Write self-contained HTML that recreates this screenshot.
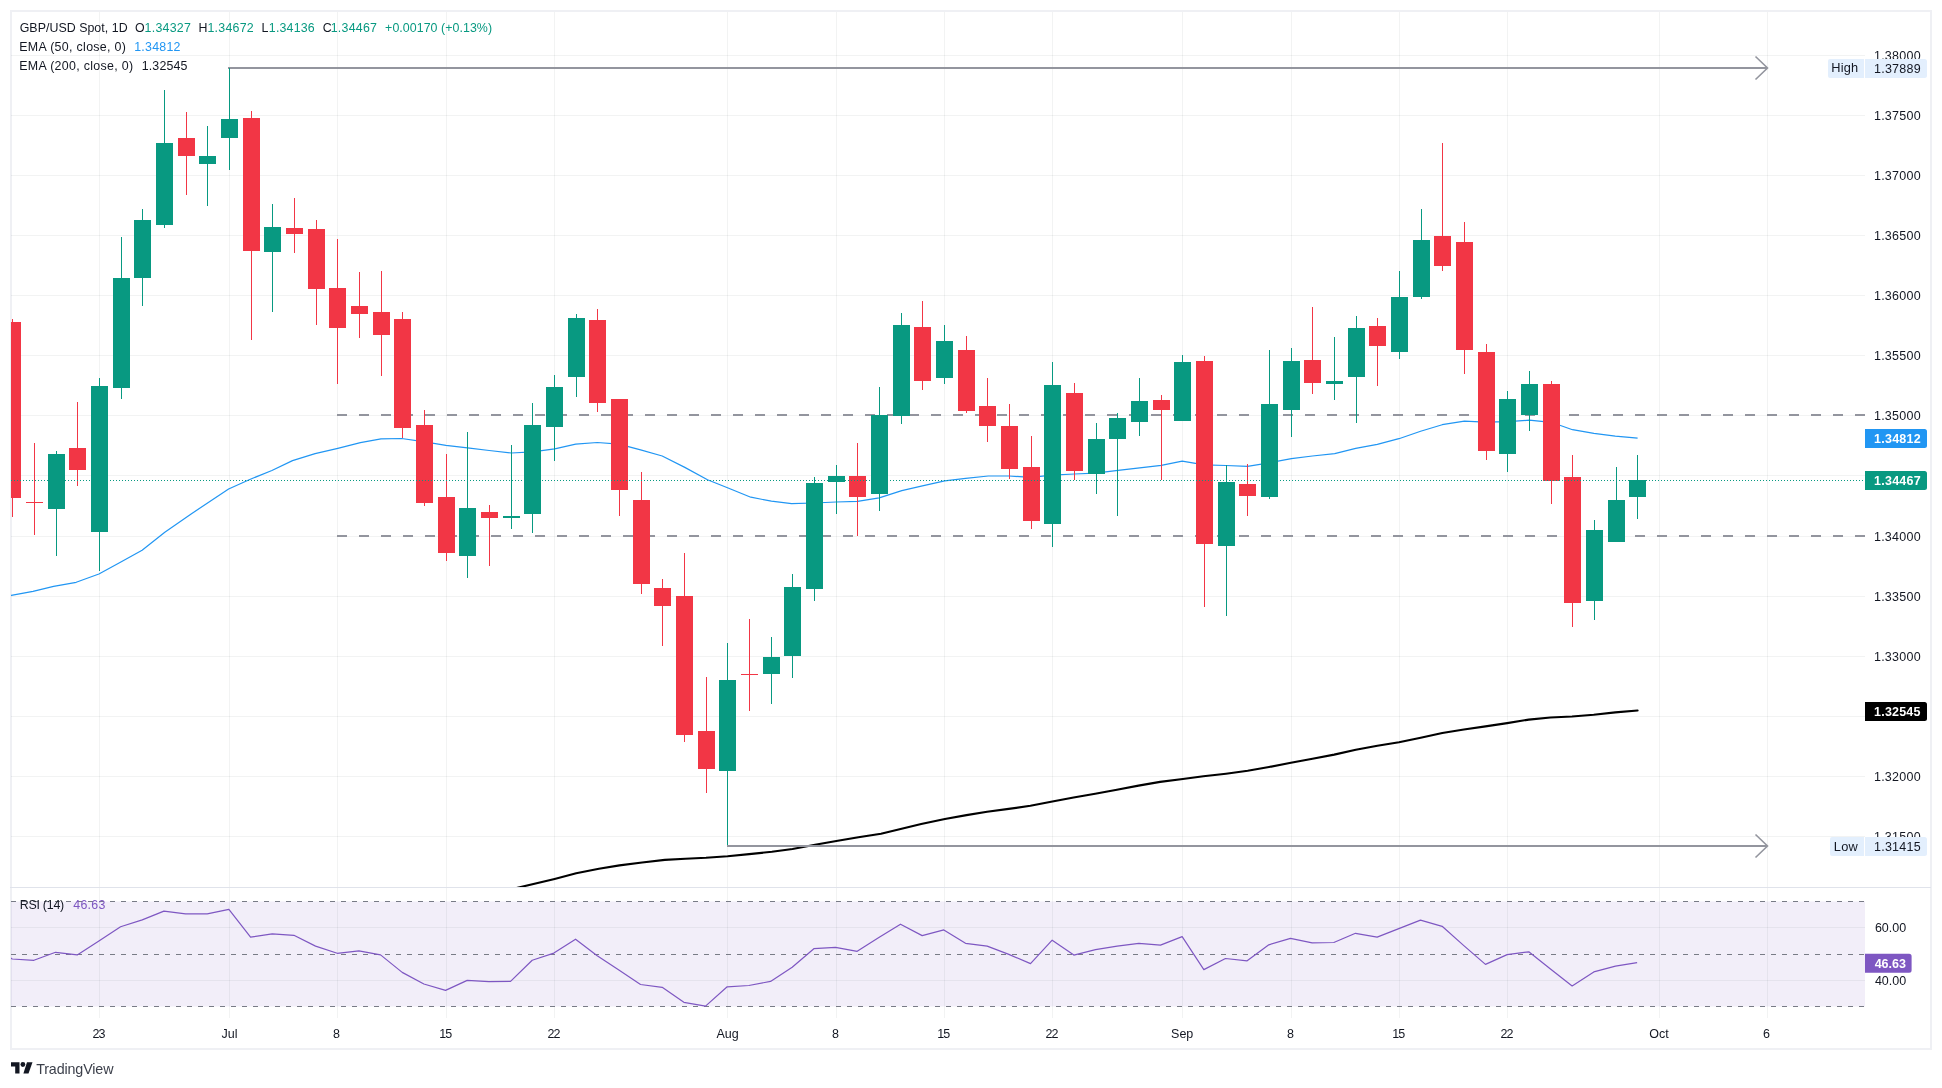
<!DOCTYPE html>
<html><head><meta charset="utf-8"><title>GBP/USD</title>
<style>
html,body{margin:0;padding:0;background:#fff;}
body{width:1942px;height:1088px;position:relative;overflow:hidden;font-family:"Liberation Sans", sans-serif;}
svg{position:absolute;left:0;top:0;will-change:transform;}
svg text{font-family:"Liberation Sans", sans-serif;}
</style></head>
<body>
<svg width="1942" height="1088" viewBox="0 0 1942 1088">
<rect x="0" y="0" width="1942" height="1088" fill="#fff"/>
<g fill="#eff0f4" shape-rendering="crispEdges">
<rect x="10" y="10" width="1922" height="2"/><rect x="10" y="1048" width="1922" height="2"/>
<rect x="10" y="10" width="2" height="1040"/><rect x="1930" y="10" width="2" height="1040"/>
</g>
<rect x="11" y="901.5" width="1854" height="105.0" fill="rgba(126,87,194,0.1)"/>
<g shape-rendering="crispEdges" fill="rgba(42,46,57,0.06)">
<rect x="99" y="12" width="1" height="1006"/>
<rect x="229" y="12" width="1" height="1006"/>
<rect x="337" y="12" width="1" height="1006"/>
<rect x="446" y="12" width="1" height="1006"/>
<rect x="554" y="12" width="1" height="1006"/>
<rect x="727" y="12" width="1" height="1006"/>
<rect x="836" y="12" width="1" height="1006"/>
<rect x="944" y="12" width="1" height="1006"/>
<rect x="1052" y="12" width="1" height="1006"/>
<rect x="1182" y="12" width="1" height="1006"/>
<rect x="1291" y="12" width="1" height="1006"/>
<rect x="1399" y="12" width="1" height="1006"/>
<rect x="1507" y="12" width="1" height="1006"/>
<rect x="1659" y="12" width="1" height="1006"/>
<rect x="1767" y="12" width="1" height="1006"/>
<rect x="11" y="55" width="1854" height="1"/>
<rect x="11" y="115" width="1854" height="1"/>
<rect x="11" y="175" width="1854" height="1"/>
<rect x="11" y="235" width="1854" height="1"/>
<rect x="11" y="295" width="1854" height="1"/>
<rect x="11" y="355" width="1854" height="1"/>
<rect x="11" y="415" width="1854" height="1"/>
<rect x="11" y="475" width="1854" height="1"/>
<rect x="11" y="536" width="1854" height="1"/>
<rect x="11" y="596" width="1854" height="1"/>
<rect x="11" y="656" width="1854" height="1"/>
<rect x="11" y="716" width="1854" height="1"/>
<rect x="11" y="776" width="1854" height="1"/>
<rect x="11" y="836" width="1854" height="1"/>
<rect x="11" y="927" width="1854" height="1"/>
<rect x="11" y="980" width="1854" height="1"/>
</g>
<g stroke="#787b86" stroke-width="1" stroke-dasharray="5 6" shape-rendering="crispEdges">
<line x1="11" y1="901.5" x2="1865" y2="901.5"/>
<line x1="11" y1="954.5" x2="1865" y2="954.5"/>
<line x1="11" y1="1006.5" x2="1865" y2="1006.5"/>
</g>
<rect x="10" y="887" width="1921" height="1" fill="#e0e3eb" shape-rendering="crispEdges"/>
<defs><clipPath id="cm"><rect x="11" y="12" width="1854" height="875"/></clipPath><clipPath id="cr"><rect x="11" y="888" width="1854" height="130"/></clipPath></defs>
<g clip-path="url(#cm)">
<g stroke="#93959e" stroke-width="2" stroke-dasharray="10 12">
<line x1="337" y1="415" x2="1865" y2="415"/>
<line x1="337" y1="536" x2="1865" y2="536"/>
</g>
<polyline fill="none" stroke="#000" stroke-width="2.1" stroke-linejoin="round" stroke-linecap="round" points="480,898 500,892.6 517.5,887.8 554.6,878.9 576.2,873.3 598.9,868.7 619.5,865.4 642.1,862.5 664.8,859.9 685.4,858.8 706,857.8 727.6,856.2 749.2,854.1 771.9,851.8 792.5,849 815.1,844.8 837.8,840.7 858.4,837.2 881,833.7 900.6,828.9 921.2,824.1 944.9,819 966.5,815.1 987.1,811.8 1008.7,808.9 1030.4,805.8 1052.4,801.5 1073.6,797.5 1095.2,793.8 1116.9,789.7 1138.5,785.6 1160.1,781.9 1182.8,779 1203.4,776.3 1226,773.7 1247.7,770.8 1269,767 1290.9,762.8 1312.5,758.7 1334.2,754.6 1355.8,749.8 1377.4,745.7 1399,742.2 1420.7,737.7 1442.3,733 1463.9,729.5 1485.5,726.4 1507.2,723.1 1528.8,719.6 1550.4,717.5 1572,716.5 1593.7,714.8 1615.3,712.4 1637.6,710.5"/>
<polyline fill="none" stroke="#2196f3" stroke-width="1.2" stroke-linejoin="round" points="-12,600 11.3,595.3 33,591.4 53.6,586.4 76.2,582.3 98.9,574 119.5,562.8 142.1,550.3 164.8,532.3 191.5,513.7 228.6,489 249.2,479.7 271.9,470.5 292.5,460.6 315.1,453.6 337.8,448.4 360.4,442.7 381,438.8 401.6,438.5 423.3,441.6 445.9,445.3 467.5,447.8 489.2,450.5 511.4,453 532.4,451.9 554.7,448.8 575.7,444.1 597.3,442.5 618.9,444.1 640.6,449.9 662.2,456 684.8,467.4 707.5,479.7 728.1,488 750.8,497.2 771.4,501.2 791.6,503.6 814.3,503 835.9,502 857.5,501.4 879.2,497.9 901.8,490.6 922.4,485.9 944.7,480.8 965.7,478.3 988.3,476 1008.9,476 1030.6,477.3 1052.2,475.2 1074.4,474 1095.4,473.1 1118.1,470.4 1139.7,467.8 1161.3,465.4 1182.2,461.2 1204.3,464.9 1225.9,465.5 1247.5,466.3 1269.2,462.8 1291.4,458.7 1312.4,456 1334.7,453.6 1355.7,448.4 1377.3,444.3 1398.9,438.7 1420.6,431.3 1442.2,424.7 1464.4,421.2 1485.4,422.2 1508.1,421.6 1529.2,420.2 1551.3,422.3 1572.5,429.7 1593.9,433.4 1615.3,436.1 1637.6,438.1"/>
<g shape-rendering="crispEdges">
<rect x="12" y="319" width="1" height="198" fill="#f23645"/>
<rect x="4" y="322" width="17" height="176" fill="#f23645"/>
<rect x="34" y="443" width="1" height="92" fill="#f23645"/>
<rect x="26" y="502" width="17" height="1" fill="#f23645"/>
<rect x="56" y="451" width="1" height="105" fill="#089981"/>
<rect x="48" y="454" width="17" height="55" fill="#089981"/>
<rect x="77" y="402" width="1" height="84" fill="#f23645"/>
<rect x="69" y="448" width="17" height="22" fill="#f23645"/>
<rect x="99" y="378" width="1" height="193" fill="#089981"/>
<rect x="91" y="386" width="17" height="146" fill="#089981"/>
<rect x="121" y="237" width="1" height="162" fill="#089981"/>
<rect x="113" y="278" width="17" height="110" fill="#089981"/>
<rect x="142" y="209" width="1" height="97" fill="#089981"/>
<rect x="134" y="220" width="17" height="58" fill="#089981"/>
<rect x="164" y="90" width="1" height="138" fill="#089981"/>
<rect x="156" y="143" width="17" height="82" fill="#089981"/>
<rect x="186" y="112" width="1" height="83" fill="#f23645"/>
<rect x="178" y="138" width="17" height="18" fill="#f23645"/>
<rect x="207" y="126" width="1" height="80" fill="#089981"/>
<rect x="199" y="156" width="17" height="8" fill="#089981"/>
<rect x="229" y="68" width="1" height="102" fill="#089981"/>
<rect x="221" y="119" width="17" height="19" fill="#089981"/>
<rect x="251" y="111" width="1" height="229" fill="#f23645"/>
<rect x="243" y="118" width="17" height="133" fill="#f23645"/>
<rect x="272" y="204" width="1" height="108" fill="#089981"/>
<rect x="264" y="227" width="17" height="25" fill="#089981"/>
<rect x="294" y="198" width="1" height="55" fill="#f23645"/>
<rect x="286" y="228" width="17" height="6" fill="#f23645"/>
<rect x="316" y="220" width="1" height="105" fill="#f23645"/>
<rect x="308" y="229" width="17" height="60" fill="#f23645"/>
<rect x="337" y="239" width="1" height="145" fill="#f23645"/>
<rect x="329" y="288" width="17" height="40" fill="#f23645"/>
<rect x="359" y="272" width="1" height="66" fill="#f23645"/>
<rect x="351" y="306" width="17" height="8" fill="#f23645"/>
<rect x="381" y="271" width="1" height="105" fill="#f23645"/>
<rect x="373" y="312" width="17" height="23" fill="#f23645"/>
<rect x="402" y="312" width="1" height="126" fill="#f23645"/>
<rect x="394" y="319" width="17" height="109" fill="#f23645"/>
<rect x="424" y="410" width="1" height="96" fill="#f23645"/>
<rect x="416" y="425" width="17" height="78" fill="#f23645"/>
<rect x="446" y="454" width="1" height="107" fill="#f23645"/>
<rect x="438" y="497" width="17" height="56" fill="#f23645"/>
<rect x="467" y="432" width="1" height="146" fill="#089981"/>
<rect x="459" y="508" width="17" height="48" fill="#089981"/>
<rect x="489" y="505" width="1" height="61" fill="#f23645"/>
<rect x="481" y="512" width="17" height="6" fill="#f23645"/>
<rect x="511" y="445" width="1" height="84" fill="#089981"/>
<rect x="503" y="516" width="17" height="2" fill="#089981"/>
<rect x="532" y="403" width="1" height="130" fill="#089981"/>
<rect x="524" y="425" width="17" height="89" fill="#089981"/>
<rect x="554" y="375" width="1" height="86" fill="#089981"/>
<rect x="546" y="387" width="17" height="40" fill="#089981"/>
<rect x="576" y="314" width="1" height="83" fill="#089981"/>
<rect x="568" y="318" width="17" height="59" fill="#089981"/>
<rect x="597" y="309" width="1" height="103" fill="#f23645"/>
<rect x="589" y="320" width="17" height="83" fill="#f23645"/>
<rect x="619" y="399" width="1" height="117" fill="#f23645"/>
<rect x="611" y="399" width="17" height="91" fill="#f23645"/>
<rect x="641" y="472" width="1" height="122" fill="#f23645"/>
<rect x="633" y="500" width="17" height="84" fill="#f23645"/>
<rect x="662" y="579" width="1" height="67" fill="#f23645"/>
<rect x="654" y="588" width="17" height="18" fill="#f23645"/>
<rect x="684" y="553" width="1" height="189" fill="#f23645"/>
<rect x="676" y="596" width="17" height="139" fill="#f23645"/>
<rect x="706" y="677" width="1" height="116" fill="#f23645"/>
<rect x="698" y="731" width="17" height="38" fill="#f23645"/>
<rect x="727" y="643" width="1" height="203" fill="#089981"/>
<rect x="719" y="680" width="17" height="91" fill="#089981"/>
<rect x="749" y="619" width="1" height="92" fill="#f23645"/>
<rect x="741" y="674" width="17" height="1" fill="#f23645"/>
<rect x="771" y="637" width="1" height="67" fill="#089981"/>
<rect x="763" y="657" width="17" height="17" fill="#089981"/>
<rect x="792" y="574" width="1" height="104" fill="#089981"/>
<rect x="784" y="587" width="17" height="69" fill="#089981"/>
<rect x="814" y="477" width="1" height="124" fill="#089981"/>
<rect x="806" y="483" width="17" height="106" fill="#089981"/>
<rect x="836" y="465" width="1" height="49" fill="#089981"/>
<rect x="828" y="476" width="17" height="6" fill="#089981"/>
<rect x="857" y="443" width="1" height="93" fill="#f23645"/>
<rect x="849" y="476" width="17" height="21" fill="#f23645"/>
<rect x="879" y="387" width="1" height="124" fill="#089981"/>
<rect x="871" y="415" width="17" height="79" fill="#089981"/>
<rect x="901" y="313" width="1" height="111" fill="#089981"/>
<rect x="893" y="325" width="17" height="91" fill="#089981"/>
<rect x="922" y="301" width="1" height="89" fill="#f23645"/>
<rect x="914" y="327" width="17" height="54" fill="#f23645"/>
<rect x="944" y="325" width="1" height="59" fill="#089981"/>
<rect x="936" y="341" width="17" height="37" fill="#089981"/>
<rect x="966" y="336" width="1" height="77" fill="#f23645"/>
<rect x="958" y="350" width="17" height="61" fill="#f23645"/>
<rect x="987" y="378" width="1" height="64" fill="#f23645"/>
<rect x="979" y="406" width="17" height="20" fill="#f23645"/>
<rect x="1009" y="404" width="1" height="75" fill="#f23645"/>
<rect x="1001" y="426" width="17" height="43" fill="#f23645"/>
<rect x="1031" y="436" width="1" height="93" fill="#f23645"/>
<rect x="1023" y="467" width="17" height="54" fill="#f23645"/>
<rect x="1052" y="362" width="1" height="185" fill="#089981"/>
<rect x="1044" y="385" width="17" height="139" fill="#089981"/>
<rect x="1074" y="383" width="1" height="97" fill="#f23645"/>
<rect x="1066" y="393" width="17" height="78" fill="#f23645"/>
<rect x="1096" y="423" width="1" height="71" fill="#089981"/>
<rect x="1088" y="439" width="17" height="35" fill="#089981"/>
<rect x="1117" y="413" width="1" height="103" fill="#089981"/>
<rect x="1109" y="418" width="17" height="21" fill="#089981"/>
<rect x="1139" y="378" width="1" height="58" fill="#089981"/>
<rect x="1131" y="401" width="17" height="21" fill="#089981"/>
<rect x="1161" y="395" width="1" height="85" fill="#f23645"/>
<rect x="1153" y="400" width="17" height="10" fill="#f23645"/>
<rect x="1182" y="355" width="1" height="66" fill="#089981"/>
<rect x="1174" y="362" width="17" height="59" fill="#089981"/>
<rect x="1204" y="356" width="1" height="251" fill="#f23645"/>
<rect x="1196" y="361" width="17" height="183" fill="#f23645"/>
<rect x="1226" y="465" width="1" height="151" fill="#089981"/>
<rect x="1218" y="482" width="17" height="64" fill="#089981"/>
<rect x="1247" y="464" width="1" height="52" fill="#f23645"/>
<rect x="1239" y="484" width="17" height="12" fill="#f23645"/>
<rect x="1269" y="350" width="1" height="149" fill="#089981"/>
<rect x="1261" y="404" width="17" height="93" fill="#089981"/>
<rect x="1291" y="348" width="1" height="89" fill="#089981"/>
<rect x="1283" y="361" width="17" height="49" fill="#089981"/>
<rect x="1312" y="307" width="1" height="87" fill="#f23645"/>
<rect x="1304" y="360" width="17" height="23" fill="#f23645"/>
<rect x="1334" y="337" width="1" height="63" fill="#089981"/>
<rect x="1326" y="381" width="17" height="3" fill="#089981"/>
<rect x="1356" y="316" width="1" height="107" fill="#089981"/>
<rect x="1348" y="328" width="17" height="49" fill="#089981"/>
<rect x="1377" y="318" width="1" height="68" fill="#f23645"/>
<rect x="1369" y="326" width="17" height="20" fill="#f23645"/>
<rect x="1399" y="271" width="1" height="88" fill="#089981"/>
<rect x="1391" y="297" width="17" height="55" fill="#089981"/>
<rect x="1421" y="209" width="1" height="90" fill="#089981"/>
<rect x="1413" y="240" width="17" height="57" fill="#089981"/>
<rect x="1442" y="143" width="1" height="128" fill="#f23645"/>
<rect x="1434" y="236" width="17" height="30" fill="#f23645"/>
<rect x="1464" y="222" width="1" height="152" fill="#f23645"/>
<rect x="1456" y="242" width="17" height="108" fill="#f23645"/>
<rect x="1486" y="344" width="1" height="116" fill="#f23645"/>
<rect x="1478" y="352" width="17" height="99" fill="#f23645"/>
<rect x="1507" y="391" width="1" height="81" fill="#089981"/>
<rect x="1499" y="399" width="17" height="55" fill="#089981"/>
<rect x="1529" y="371" width="1" height="60" fill="#089981"/>
<rect x="1521" y="384" width="17" height="31" fill="#089981"/>
<rect x="1551" y="381" width="1" height="123" fill="#f23645"/>
<rect x="1543" y="384" width="17" height="97" fill="#f23645"/>
<rect x="1572" y="455" width="1" height="172" fill="#f23645"/>
<rect x="1564" y="477" width="17" height="126" fill="#f23645"/>
<rect x="1594" y="520" width="1" height="100" fill="#089981"/>
<rect x="1586" y="530" width="17" height="71" fill="#089981"/>
<rect x="1616" y="467" width="1" height="75" fill="#089981"/>
<rect x="1608" y="500" width="17" height="42" fill="#089981"/>
<rect x="1637" y="455" width="1" height="64" fill="#089981"/>
<rect x="1629" y="480" width="17" height="17" fill="#089981"/>
</g>
<line x1="11" y1="480.5" x2="1865" y2="480.5" stroke="#089981" stroke-width="1" stroke-dasharray="1 2" shape-rendering="crispEdges"/>
<g stroke="#93959e" stroke-width="2" fill="none">
<line x1="228" y1="68" x2="1767" y2="68"/>
<polyline points="1755.5,56.5 1767.5,68 1755.5,79.5" stroke-width="1.6"/>
<line x1="727" y1="846" x2="1767" y2="846"/>
<polyline points="1755.5,834.5 1767.5,846 1755.5,857.5" stroke-width="1.6"/>
</g>
<rect x="229" y="68" width="1" height="2" fill="#089981"/>
</g>
<g clip-path="url(#cr)">
<polyline fill="none" stroke="#7e57c2" stroke-width="1.2" stroke-linejoin="round" points="-9.41,945 12.25,959 33.92,960.3 55.58,952.3 77.25,954.9 98.91,941 120.58,926.8 142.24,919.9 163.91,911.1 185.57,913.9 207.24,913.9 228.9,909.3 250.56,937.1 272.23,933.8 293.89,935.3 315.56,946.1 337.22,953.3 358.89,950.8 380.55,954.9 402.22,972.4 423.88,984 445.55,990.4 467.21,980.4 488.88,981.7 510.54,981.4 532.21,960.3 553.87,953.1 575.54,939.2 597.21,955.7 618.87,970.1 640.53,984.5 662.2,987.3 683.86,1002.3 705.53,1006.1 727.19,986.8 748.86,985.5 770.52,981.4 792.19,967.2 813.85,948.7 835.52,947.4 857.18,951.3 878.85,937.6 900.51,924.2 922.18,935.6 943.84,929.9 965.51,943.3 987.17,946.1 1008.84,954.4 1030.51,963.6 1052.17,940.2 1073.84,955.1 1095.5,949.7 1117.16,946.1 1138.83,943.3 1160.49,945.1 1182.16,936.6 1203.83,969.6 1225.49,958.5 1247.16,960.8 1268.82,944.8 1290.49,938.4 1312.15,942.8 1333.82,942.5 1355.48,933.3 1377.14,937.1 1398.81,928.6 1420.48,920.1 1442.14,926.3 1463.81,945.6 1485.47,964.4 1507.13,954.6 1528.8,951.8 1550.47,969 1572.13,986 1593.8,971.9 1615.46,966.2 1637.12,962.6"/>
</g>
<g opacity="0.995">
<text x="19.68" y="32" font-size="12.4" fill="#131722" textLength="107.92" lengthAdjust="spacing">GBP/USD Spot, 1D</text>
<text x="135.11" y="32" font-size="12.4" fill="#131722">O</text>
<text x="144.56" y="32" font-size="12.4" fill="#089981" textLength="46.37" lengthAdjust="spacing">1.34327</text>
<text x="198.48" y="32" font-size="12.4" fill="#131722">H</text>
<text x="207.46" y="32" font-size="12.4" fill="#089981" textLength="46.27" lengthAdjust="spacing">1.34672</text>
<text x="261.58" y="32" font-size="12.4" fill="#131722">L</text>
<text x="268.86" y="32" font-size="12.4" fill="#089981" textLength="45.79" lengthAdjust="spacing">1.34136</text>
<text x="322.77" y="32" font-size="12.4" fill="#131722">C</text>
<text x="330.66" y="32" font-size="12.4" fill="#089981" textLength="46.37" lengthAdjust="spacing">1.34467</text>
<text x="385.09" y="32" font-size="12.4" fill="#089981" textLength="106.97" lengthAdjust="spacing">+0.00170 (+0.13%)</text>
<text x="19.28" y="51" font-size="12.4" fill="#131722" textLength="106.69" lengthAdjust="spacing">EMA (50, close, 0)</text>
<text x="134.16" y="51" font-size="12.4" fill="#2196f3" textLength="46.37" lengthAdjust="spacing">1.34812</text>
<text x="19.28" y="70.2" font-size="12.4" fill="#131722" textLength="113.79" lengthAdjust="spacing">EMA (200, close, 0)</text>
<text x="141.66" y="70.2" font-size="12.4" fill="#131722" textLength="45.87" lengthAdjust="spacing">1.32545</text>
<text x="19.78" y="908.7" font-size="12.4" fill="#131722" textLength="44.39" lengthAdjust="spacing">RSI (14)</text>
<text x="73.32" y="908.7" font-size="12.4" fill="#7e57c2" textLength="32.03" lengthAdjust="spacing">46.63</text>
<text x="1873.95" y="59.5" font-size="12.5" fill="#131722" textLength="46.64" lengthAdjust="spacing">1.38000</text>
<text x="1873.95" y="119.62" font-size="12.5" fill="#131722" textLength="46.64" lengthAdjust="spacing">1.37500</text>
<text x="1873.95" y="179.75" font-size="12.5" fill="#131722" textLength="46.64" lengthAdjust="spacing">1.37000</text>
<text x="1873.95" y="239.87" font-size="12.5" fill="#131722" textLength="46.64" lengthAdjust="spacing">1.36500</text>
<text x="1873.95" y="300" font-size="12.5" fill="#131722" textLength="46.64" lengthAdjust="spacing">1.36000</text>
<text x="1873.95" y="360.12" font-size="12.5" fill="#131722" textLength="46.64" lengthAdjust="spacing">1.35500</text>
<text x="1873.95" y="420.25" font-size="12.5" fill="#131722" textLength="46.64" lengthAdjust="spacing">1.35000</text>
<text x="1873.95" y="540.5" font-size="12.5" fill="#131722" textLength="46.64" lengthAdjust="spacing">1.34000</text>
<text x="1873.95" y="600.62" font-size="12.5" fill="#131722" textLength="46.64" lengthAdjust="spacing">1.33500</text>
<text x="1873.95" y="660.75" font-size="12.5" fill="#131722" textLength="46.64" lengthAdjust="spacing">1.33000</text>
<text x="1873.95" y="781" font-size="12.5" fill="#131722" textLength="46.64" lengthAdjust="spacing">1.32000</text>
<text x="1873.95" y="841.12" font-size="12.5" fill="#131722" textLength="46.64" lengthAdjust="spacing">1.31500</text>
<text x="92.52" y="1038" font-size="12.5" fill="#131722" textLength="12.89" lengthAdjust="spacing">23</text>
<text x="221.53" y="1038" font-size="12.5" fill="#131722">Jul</text>
<text x="332.96" y="1038" font-size="12.5" fill="#131722" textLength="6.48" lengthAdjust="spacing">8</text>
<text x="439.33" y="1038" font-size="12.5" fill="#131722" textLength="12.91" lengthAdjust="spacing">15</text>
<text x="547.55" y="1038" font-size="12.5" fill="#131722" textLength="12.89" lengthAdjust="spacing">22</text>
<text x="716.47" y="1038" font-size="12.5" fill="#131722">Aug</text>
<text x="831.96" y="1038" font-size="12.5" fill="#131722" textLength="6.48" lengthAdjust="spacing">8</text>
<text x="937.33" y="1038" font-size="12.5" fill="#131722" textLength="12.91" lengthAdjust="spacing">15</text>
<text x="1045.55" y="1038" font-size="12.5" fill="#131722" textLength="12.89" lengthAdjust="spacing">22</text>
<text x="1171.06" y="1038" font-size="12.5" fill="#131722">Sep</text>
<text x="1286.96" y="1038" font-size="12.5" fill="#131722" textLength="6.48" lengthAdjust="spacing">8</text>
<text x="1392.33" y="1038" font-size="12.5" fill="#131722" textLength="12.91" lengthAdjust="spacing">15</text>
<text x="1500.55" y="1038" font-size="12.5" fill="#131722" textLength="12.89" lengthAdjust="spacing">22</text>
<text x="1649.23" y="1038" font-size="12.5" fill="#131722">Oct</text>
<text x="1762.91" y="1038" font-size="12.5" fill="#131722" textLength="6.49" lengthAdjust="spacing">6</text>
<path d="M1865 429h59.5a2.5 2.5 0 0 1 2.5 2.5v14a2.5 2.5 0 0 1 -2.5 2.5h-59.5z" fill="#2196f3"/>
<text x="1874.11" y="443" font-size="12.5" fill="#fff" font-weight="bold" textLength="46.49" lengthAdjust="spacing">1.34812</text>
<path d="M1865 471h59.5a2.5 2.5 0 0 1 2.5 2.5v14a2.5 2.5 0 0 1 -2.5 2.5h-59.5z" fill="#089981"/>
<text x="1874.11" y="485" font-size="12.5" fill="#fff" font-weight="bold" textLength="46.54" lengthAdjust="spacing">1.34467</text>
<path d="M1865 702h59.5a2.5 2.5 0 0 1 2.5 2.5v14a2.5 2.5 0 0 1 -2.5 2.5h-59.5z" fill="#000"/>
<text x="1874.11" y="716" font-size="12.5" fill="#fff" font-weight="bold" textLength="46.34" lengthAdjust="spacing">1.32545</text>
<path d="M1865 953.7h44.1a2.5 2.5 0 0 1 2.5 2.5v14a2.5 2.5 0 0 1 -2.5 2.5h-44.1z" fill="#7e57c2"/>
<text x="1874.67" y="967.7" font-size="12.5" fill="#fff" font-weight="bold">46.63</text>
<path d="M1828 61a2 2 0 0 1 2 -2h34v19h-34a2 2 0 0 1 -2 -2z" fill="#e3effd"/>
<path d="M1865 59h59.5a2.5 2.5 0 0 1 2.5 2.5v14a2.5 2.5 0 0 1 -2.5 2.5h-59.5z" fill="#e3effd"/>
<text x="1873.95" y="73" font-size="12.5" fill="#131722" textLength="46.74" lengthAdjust="spacing">1.37889</text>
<text x="1831.35" y="72" font-size="12.8" fill="#131722" textLength="26.78" lengthAdjust="spacing">High</text>
<path d="M1830 839a2 2 0 0 1 2 -2h32v19h-32a2 2 0 0 1 -2 -2z" fill="#e3effd"/>
<path d="M1865 837h59.5a2.5 2.5 0 0 1 2.5 2.5v14a2.5 2.5 0 0 1 -2.5 2.5h-59.5z" fill="#e3effd"/>
<text x="1873.95" y="851" font-size="12.5" fill="#131722" textLength="46.68" lengthAdjust="spacing">1.31415</text>
<text x="1833.65" y="850.7" font-size="12.8" fill="#131722" textLength="24.22" lengthAdjust="spacing">Low</text>
<text x="1874.91" y="932.4" font-size="12.5" fill="#131722">60.00</text>
<text x="1874.91" y="985.4" font-size="12.5" fill="#131722">40.00</text>
<text x="36.18" y="1073.8" font-size="14.3" fill="#3b3f4a" textLength="77.29" lengthAdjust="spacing">TradingView</text>
</g>
<g fill="#131722">
<path d="M11 1062.3h8.5v11.1h-4.3V1066.6H11z"/>
<circle cx="22.9" cy="1064.5" r="2.4"/>
<path d="M27 1062.2h5.5L28.5 1073.5h-5.1z"/>
</g>
</svg>
</body></html>
